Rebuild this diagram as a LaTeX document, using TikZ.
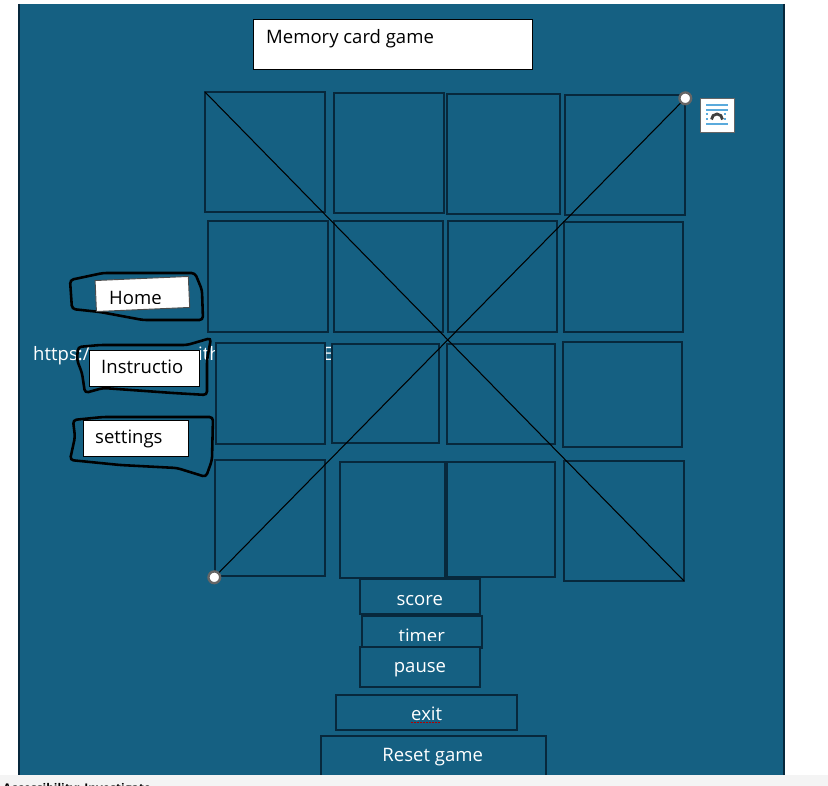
\documentclass[tikz,border=0pt]{standalone}
\usepackage{fontspec}
\setmainfont{Open Sans}
\usetikzlibrary{positioning}
\definecolor{slide-blue}{RGB}{21,96,130}
\definecolor{slide-dark}{RGB}{7,40,60}
\definecolor{bar-grey}{RGB}{244,244,244}
\definecolor{icon-blue}{RGB}{90,170,220}
\begin{document}
\begin{tikzpicture} [ % styles first
            x=0.03cm, y=-0.03cm,
            font=\fontsize{15.8}{19}\selectfont,
            card/.style = {draw=slide-dark, fill=slide-blue, line width=1.9pt},
            btn/.style = {rectangle, draw=slide-dark, fill=slide-blue, line width=1.9pt, anchor=north west, inner sep=0pt},
            tab/.style = {rectangle, draw=black, fill=white, line width=0.8pt, anchor=north west, inner sep=0pt},
            scribble/.style = {draw=black, line width=2.2pt, rounded corners=3pt},
            handle/.style = {circle, draw=black!60, fill=white, line width=2pt, inner sep=0pt, minimum size=10pt},
            txt/.style = {anchor=base west, inner sep=0pt},
            btntxt/.style = {anchor=base, inner sep=0pt, text=white},
            iconbar/.style = {icon-blue, line width=1pt},
            icondash/.style = {iconbar, dash pattern=on 2pt off 1.5pt}
        ]

        \useasboundingbox (0,0) rectangle (828,786);

        % background
        \fill [slide-blue] (19,4) rectangle (784,780);
        \draw [slide-dark, line width=1.6pt] (19,4) -- (19,780);
        \draw [slide-dark, line width=1.6pt] (784,4) -- (784,780);

        % text behind the cards
        \node [txt, text=white] (link) at (33,360) {https:/};
        \node [txt, text=white] (linkm) at (198,360) {ith};
        \node [txt, text=white] (linke) at (323,360) {E};

        % cards
        \draw [card] (205,92) rectangle (325,212);
        \draw [card] (334,93) rectangle (444,213);
        \draw [card] (447,94) rectangle (560,214);
        \draw [card] (565,95) rectangle (685,215);

        \draw [card] (208,221) rectangle (328,332);
        \draw [card] (334,221) rectangle (443,332);
        \draw [card] (448,221) rectangle (557,332);
        \draw [card] (564,222) rectangle (683,332);

        \draw [card] (216,343) rectangle (325,444);
        \draw [card] (332,344) rectangle (439,443);
        \draw [card] (447,344) rectangle (555,444);
        \draw [card] (563,342) rectangle (682,447);

        \draw [card] (215,460) rectangle (325,576);
        \draw [card] (340,462) rectangle (445,578);
        \draw [card] (447,462) rectangle (555,577);
        \draw [card] (564,461) rectangle (684,581);

        % handles and diagonals
        \node [handle] (hr) at (685.3,98.3) {};
        \node [handle] (hl) at (214.3,577.3) {};
        \coordinate (tl) at (205,92);
        \coordinate (br) at (684,581);
        \draw [black, line width=0.9pt] (tl) -- (br);
        \draw [black, line width=0.9pt] (hl) -- (hr);

        % title
        \node [tab, minimum width=8.37cm, minimum height=1.47cm] (title) at (253,19.5) {};
        \node [txt] (titletext) at (266,43.5) {Memory card game};

        % layout icon
        \node [rectangle, draw=black!60, fill=white, line width=0.9pt, anchor=north west, minimum size=1.03cm, inner sep=0pt] (icon) at (700,98) {};
        \draw [iconbar] (706,105) -- (728,105);
        \draw [iconbar] (706,110) -- (728,110);
        \draw [iconbar] (706,124) -- (728,124);
        \draw [icondash] (706,114) -- (710,114);
        \draw [icondash] (724,114) -- (728,114);
        \draw [icondash] (706,119) -- (710,119);
        \draw [icondash] (724,119) -- (728,119);
        \draw [black!75, line width=2.4pt] (711.5,119.5) arc[start angle=180, end angle=360, radius=5.5];

        % side buttons
        \draw [scribble] (70,280) -- (103,273) -- (195,273) -- (202,290) -- (203,320) -- (143,320) -- (100,312) -- (72,309) -- cycle;
        \draw [scribble] (78,347) -- (100,345) -- (187,345) -- (211,338) -- (207,360) -- (207,395) -- (173,393) -- (103,388) -- (85,393) -- (82,373) -- (77,360) -- cycle;
        \draw [scribble] (73,420) -- (103,417) -- (213,417) -- (212,460) -- (206,477) -- (177,468) -- (120,465) -- (70,460) -- (75,437) -- cycle;

        \node [tab, minimum width=2.8cm, minimum height=0.93cm, rotate=2.5, anchor=south west, draw=black!70] (home) at (96,312) {};
        \begin{scope}
            \clip (95,270) rectangle (190,303.5);
            \node [txt] (hometext) at (109,304.5) {Home};
        \end{scope}

        \node [tab, minimum width=3.3cm, minimum height=1.08cm] (instr) at (89,349.5) {};
        \node [txt] (instrtext) at (101,373.5) {Instructio};

        \node [tab, minimum width=3.15cm, minimum height=1.08cm] (settings) at (83,419.5) {};
        \node [txt] (settingstext) at (95,443.5) {settings};

        % bottom buttons
        \node [btn, minimum width=3.6cm, minimum height=1.05cm] (score) at (359,578) {};
        \node [btntxt] (scoretext) at (419.7,605) {score};
        \node [btn, minimum width=3.6cm, minimum height=0.96cm] (timer) at (361,615) {};
        \begin{scope}
            \clip (362,616) rectangle (482,640);
            \node [btntxt] (timertext) at (421.7,642) {timer};
        \end{scope}
        \node [btn, minimum width=3.6cm, minimum height=1.2cm] (pause) at (359,646) {};
        \node [btntxt] (pausetext) at (420,672) {pause};
        \node [btn, minimum width=5.43cm, minimum height=1.05cm] (exit) at (335,694) {};
        \node [btntxt] (exittext) at (426.7,720.5) {exit};
        \draw [red!70!black, line width=0.8pt, dash pattern=on 1.6pt off 1pt] (411,722) -- (441,722);
        \node [btn, minimum width=6.75cm, minimum height=1.5cm] (reset) at (320,735) {};
        \node [btntxt] (resettext) at (432.7,761.7) {Reset game};

        % grey bar with cut off text
        \fill [bar-grey] (0,775) rectangle (828,786);
        \begin{scope}
            \clip (0,775) rectangle (828,786);
            \node [txt, font=\bfseries\fontsize{10.2}{12}\selectfont] (access) at (3,792) {Accessibility: Investigate};
        \end{scope}
    \end{tikzpicture}
\end{document}
